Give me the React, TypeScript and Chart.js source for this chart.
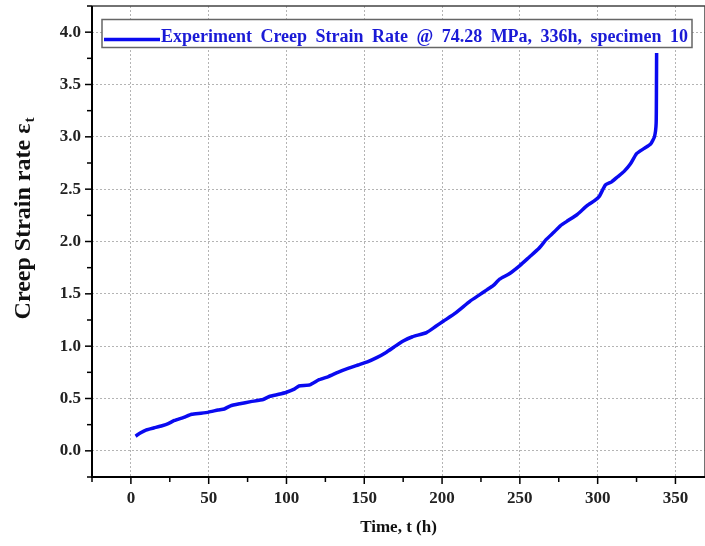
import React, { useEffect, useRef } from "react";
import { Chart, registerables } from "chart.js";

Chart.register(...registerables);

// ---- data ----
const timeH = [
  3, 6, 10, 15, 20, 24, 28, 34, 39, 45, 50, 56, 60, 64, 70, 77, 85, 89, 95, 100,
  105, 108, 115, 121, 127, 133, 140, 146, 152, 158, 164, 169, 175, 181, 190, 196,
  201, 209, 218, 224, 229, 233, 237, 243, 250, 256, 262, 267, 272, 276, 281, 287,
  293, 298, 301, 305, 309, 313, 317, 321, 325, 330, 334, 336.5, 337.6, 337.8, 337.9,
];
const strainRate = [
  0.14, 0.17, 0.2, 0.22, 0.24, 0.26, 0.29, 0.32, 0.35, 0.36, 0.37, 0.39, 0.4, 0.43,
  0.45, 0.47, 0.49, 0.52, 0.54, 0.56, 0.59, 0.62, 0.63, 0.68, 0.71, 0.75, 0.79, 0.82,
  0.85, 0.89, 0.94, 0.99, 1.05, 1.09, 1.13, 1.19, 1.24, 1.32, 1.43, 1.49, 1.54, 1.58,
  1.64, 1.69, 1.77, 1.85, 1.93, 2.02, 2.09, 2.15, 2.2, 2.26, 2.34, 2.39, 2.43, 2.54,
  2.57, 2.62, 2.67, 2.74, 2.84, 2.89, 2.93, 3.0, 3.13, 3.48, 3.8,
];
const xTickValues = [0, 50, 100, 150, 200, 250, 300, 350];
const xMinorTicks = [-25, 25, 75, 125, 175, 225, 275, 325];
const yTickValues = [0, 0.5, 1, 1.5, 2, 2.5, 3, 3.5, 4];
const yMinorTicks = [-0.25, 0.25, 0.75, 1.25, 1.75, 2.25, 2.75, 3.25, 3.75, 4.25];
const legendLabel = "Experiment Creep Strain Rate @ 74.28 MPa, 336h, specimen 10";
const xTitle = "Time, t (h)";
const yTitle = "Creep Strain rate \u03b5";
const yTitleSub = "t";

const SERIF = "'Liberation Serif', 'Times New Roman', serif";
const LINE_BLUE = "#0a0af0";
const TEXT_BLUE = "#1a1ad6";

const originPlugin = {
  id: "originFrame",
  afterDatasetsDraw(chart: any) {
    const { ctx, chartArea: a, scales } = chart;
    const xs = scales.x;
    const ys = scales.y;
    ctx.save();
    // top/right frame
    ctx.strokeStyle = "#444";
    ctx.lineWidth = 1.5;
    ctx.beginPath();
    ctx.moveTo(a.left, a.top);
    ctx.lineTo(a.right, a.top);
    ctx.lineTo(a.right, a.bottom);
    ctx.stroke();
    // axes
    ctx.strokeStyle = "#000";
    ctx.lineWidth = 2;
    ctx.beginPath();
    ctx.moveTo(a.left, a.top);
    ctx.lineTo(a.left, a.bottom);
    ctx.lineTo(a.right, a.bottom);
    ctx.stroke();
    // tick marks
    ctx.lineWidth = 1.5;
    const xt = (v: number, len: number) => {
      const px = xs.getPixelForValue(v);
      ctx.beginPath();
      ctx.moveTo(px, a.bottom);
      ctx.lineTo(px, a.bottom + len);
      ctx.stroke();
    };
    const yt = (v: number, len: number) => {
      const py = ys.getPixelForValue(v);
      ctx.beginPath();
      ctx.moveTo(a.left, py);
      ctx.lineTo(a.left - len, py);
      ctx.stroke();
    };
    xTickValues.forEach((v) => xt(v, 7));
    xMinorTicks.forEach((v) => xt(v, 5));
    yTickValues.forEach((v) => yt(v, 7));
    yMinorTicks.forEach((v) => yt(v, 5));

    // legend box
    const bx = a.left + 10;
    const by = a.top + 13.5;
    const bw = 590;
    const bh = 28;
    ctx.fillStyle = "#fff";
    ctx.fillRect(bx, by, bw, bh);
    ctx.strokeStyle = "#666";
    ctx.lineWidth = 1.5;
    ctx.strokeRect(bx, by, bw, bh);
    ctx.strokeStyle = LINE_BLUE;
    ctx.lineWidth = 3.5;
    ctx.beginPath();
    ctx.moveTo(bx + 2, by + 20);
    ctx.lineTo(bx + 58, by + 20);
    ctx.stroke();
    ctx.fillStyle = TEXT_BLUE;
    ctx.font = `bold 18px ${SERIF}`;
    ctx.textBaseline = "alphabetic";
    ctx.textAlign = "left";
    const words = legendLabel.split(" ");
    const widths = words.map((w) => ctx.measureText(w).width);
    const total = widths.reduce((s, w) => s + w, 0);
    const x0 = bx + 59;
    const x1 = bx + bw - 4;
    const gap = (x1 - x0 - total) / (words.length - 1);
    let cx = x0;
    words.forEach((w, i) => {
      ctx.fillText(w, cx, by + 22);
      cx += widths[i] + gap;
    });

    // x title
    ctx.fillStyle = "#111";
    ctx.font = `bold 17px ${SERIF}`;
    ctx.textAlign = "center";
    ctx.fillText(xTitle, (a.left + a.right) / 2, 532);

    // y title
    ctx.save();
    ctx.translate(30, 219);
    ctx.rotate(-Math.PI / 2);
    ctx.font = `bold 24px ${SERIF}`;
    const mainW = ctx.measureText(yTitle).width;
    ctx.font = `bold 15px ${SERIF}`;
    const subW = ctx.measureText(yTitleSub).width;
    const start = -(mainW + subW) / 2;
    ctx.textAlign = "left";
    ctx.font = `bold 24px ${SERIF}`;
    ctx.fillText(yTitle, start, 0);
    ctx.font = `bold 15px ${SERIF}`;
    ctx.fillText(yTitleSub, start + mainW + 1, 4);
    ctx.restore();

    ctx.restore();
  },
};

export default function App() {
  const ref = useRef<HTMLCanvasElement | null>(null);
  useEffect(() => {
    if (!ref.current) return;
    const chart = new Chart(ref.current, {
      type: "line",
      data: {
        datasets: [
          {
            label: legendLabel,
            data: timeH.map((t, i) => ({ x: t, y: strainRate[i] })),
            borderColor: LINE_BLUE,
            backgroundColor: LINE_BLUE,
            borderWidth: 3.5,
            pointRadius: 0,
            tension: 0.15,
            fill: false,
          },
        ],
      },
      options: {
        animation: false,
        responsive: false,
        devicePixelRatio: 1,
        layout: { padding: { top: 6, right: 0, bottom: 0, left: 0 } },
        plugins: { legend: { display: false }, tooltip: { enabled: false } },
        scales: {
          x: {
            type: "linear",
            min: -25,
            max: 369,
            afterBuildTicks: (s: any) => {
              s.ticks = xTickValues.map((v) => ({ value: v }));
            },
            afterFit: (s: any) => {
              s.height = 69;
              s.paddingLeft = 0;
              s.paddingRight = 0;
            },
            ticks: {
              autoSkip: false,
              maxRotation: 0,
              padding: 11,
              color: "#222",
              font: { family: SERIF, size: 17, weight: "bold" },
              callback: (v: any) => String(v),
            },
            grid: { drawTicks: false, lineWidth: 1, color: "#b4b4b4" },
            border: { display: false, dash: [2, 2] },
          },
          y: {
            type: "linear",
            min: -0.25,
            max: 4.25,
            afterBuildTicks: (s: any) => {
              s.ticks = yTickValues.map((v) => ({ value: v }));
            },
            afterFit: (s: any) => {
              s.width = 92;
              s.paddingTop = 0;
              s.paddingBottom = 0;
            },
            ticks: {
              autoSkip: false,
              padding: 11,
              color: "#222",
              font: { family: SERIF, size: 17, weight: "bold" },
              callback: (v: any) => Number(v).toFixed(1),
            },
            grid: { drawTicks: false, lineWidth: 1, color: "#b4b4b4" },
            border: { display: false, dash: [2, 2] },
          },
        },
      },
      plugins: [originPlugin],
    } as any);
    return () => chart.destroy();
  }, []);
  return (
    <div style={{ position: "absolute", left: 0, top: 0, width: 705, height: 546, background: "#fff" }}>
      <canvas ref={ref} width={705} height={546} style={{ display: "block" }} />
    </div>
  );
}
